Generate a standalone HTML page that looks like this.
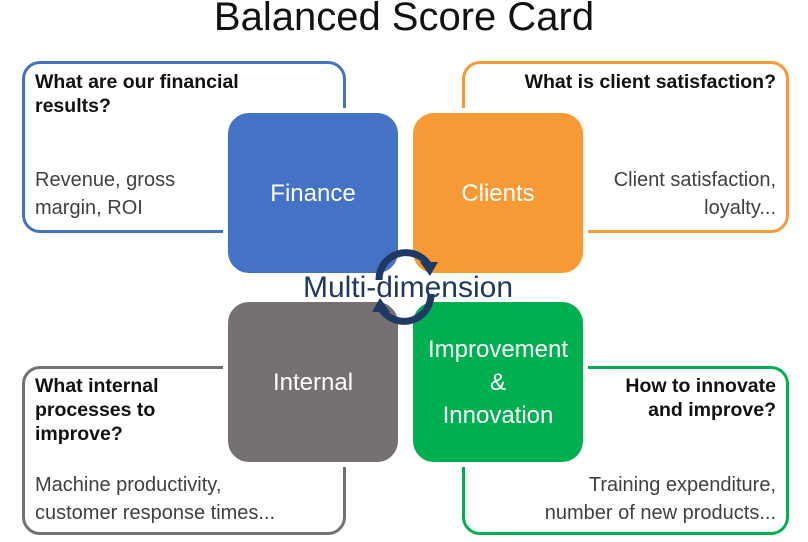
<!DOCTYPE html>
<html><head><style>
body{margin:0;width:808px;height:542px;background:#fff;position:relative;overflow:hidden;font-family:"Liberation Sans",sans-serif}
.t{position:absolute;left:0;width:808px;top:-5px;text-align:center;font-size:40px;color:#111}
.o{position:absolute;border:3.5px solid;border-radius:18px;box-sizing:border-box;background:#fff}
.q{position:absolute;font-weight:bold;font-size:19.5px;line-height:24px;color:#111}
.b{position:absolute;font-size:20px;line-height:28px;color:#404040}
.s{position:absolute;width:180px;height:170px;border:5px solid #fff;box-sizing:border-box;border-radius:26px;color:#fff;font-size:24px;display:flex;align-items:center;justify-content:center;text-align:center;line-height:33px}
.r{text-align:right}
</style></head><body>
<div class="t">Balanced Score Card</div>
<div class="o" style="left:22px;top:61px;width:324px;height:172px;border-color:#4472c4"></div>
<div class="o" style="left:462px;top:61px;width:327px;height:172px;border-color:#f79a35"></div>
<div class="o" style="left:22px;top:366px;width:324px;height:169px;border-color:#767171"></div>
<div class="o" style="left:462px;top:366px;width:327px;height:169px;border-color:#00b050"></div>
<div class="q" style="left:35px;top:70px">What are our financial<br>results?</div>
<div class="b" style="left:35px;top:166px">Revenue, gross<br>margin, ROI</div>
<div class="q r" style="right:32px;top:70px">What is client satisfaction?</div>
<div class="b r" style="right:32px;top:166px">Client satisfaction,<br>loyalty...</div>
<div class="q" style="left:35px;top:374px">What internal<br>processes to<br>improve?</div>
<div class="b" style="left:35px;top:471px">Machine productivity,<br>customer response times...</div>
<div class="q r" style="right:32px;top:374px">How to innovate<br>and improve?</div>
<div class="b r" style="right:32px;top:471px">Training expenditure,<br>number of new products...</div>
<div class="s" style="left:223px;top:108px;background:#4472c4">Finance</div>
<div class="s" style="left:408px;top:108px;background:#f79a35">Clients</div>
<div class="s" style="left:223px;top:297px;background:#767171">Internal</div>
<div class="s" style="left:408px;top:297px;background:#00b050">Improvement<br>&amp;<br>Innovation</div>
<svg style="position:absolute;left:0;top:0" width="808" height="542">
<path d="M379 280 A27 27 0 0 1 428 264" fill="none" stroke="#1f3864" stroke-width="7"/>
<polygon points="420,262 438,262 430,276" fill="#1f3864"/>
<path d="M431 294 A27 27 0 0 1 382 310" fill="none" stroke="#1f3864" stroke-width="7"/>
<polygon points="390,312 372,312 380,298" fill="#1f3864"/>
</svg>
<div style="position:absolute;left:0;width:808px;top:271px;text-align:center;font-size:30px;color:#1f3864;padding-left:4px">Multi-dimension</div>
</body></html>
